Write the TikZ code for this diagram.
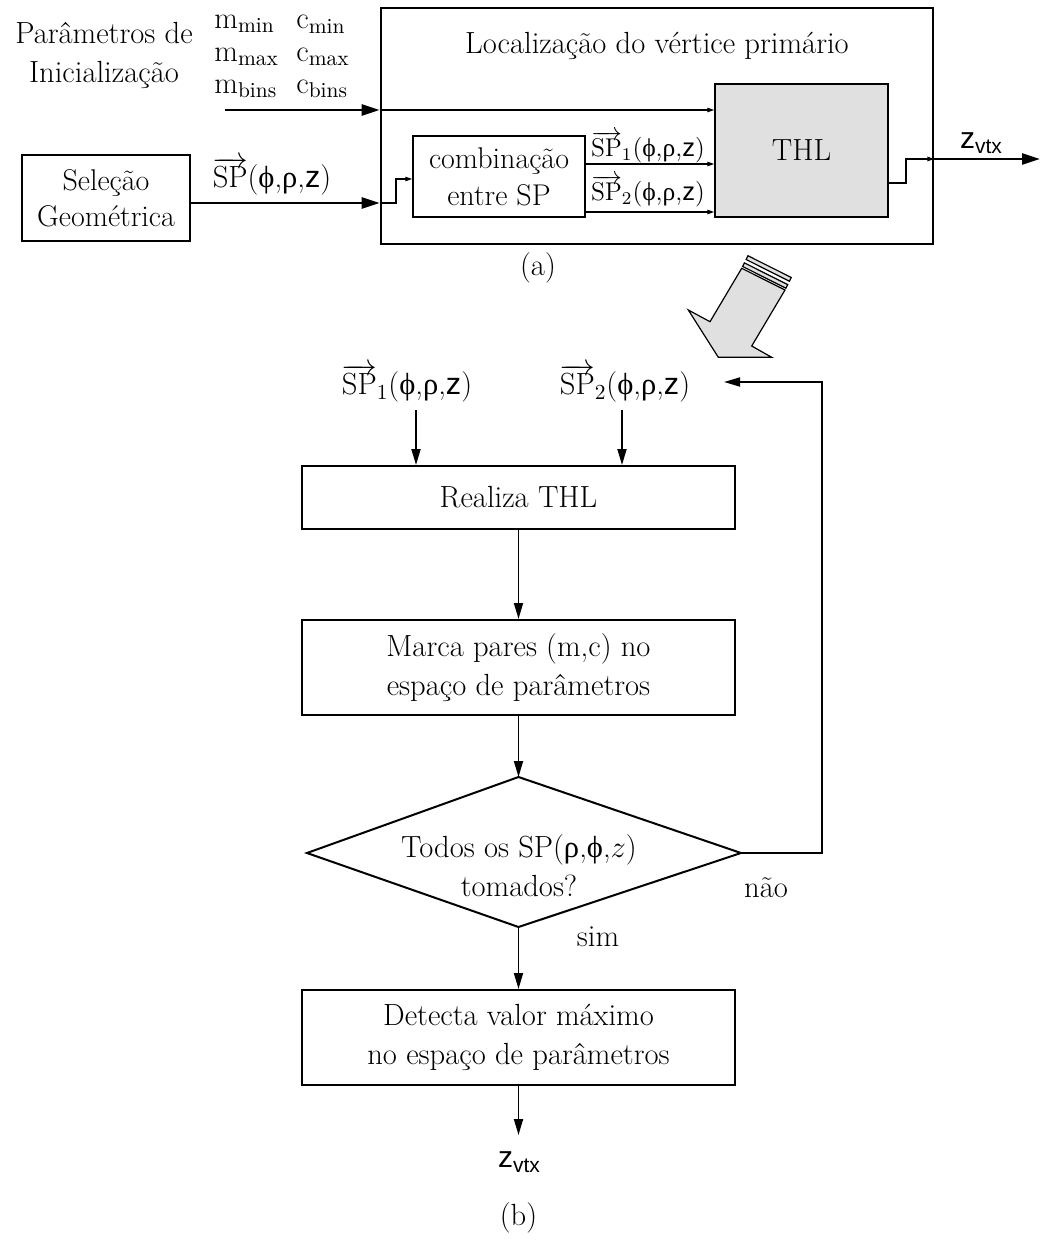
\RequirePackage{fix-cm}
\documentclass[tikz,border=0pt]{standalone}
\usepackage{fontspec}
\newfontfamily\hv{Liberation Sans}
\newfontfamily\gr{Liberation Serif}
\usetikzlibrary{arrows.meta}
\newcommand{\spargs}{({\gr ϕ},{\gr ρ},{\hv z})}
\newcommand{\spvec}[1]{$\overrightarrow{\mathrm{SP}}_{#1}$\spargs}
\newcommand{\zvtx}{{\hv\fontsize{15}{15}\selectfont z\raisebox{-0.3ex}{\fontsize{10.5}{10}\selectfont vtx}}}
\begin{document}
\begin{tikzpicture}[x=0.5pt,y=-0.5pt,
  font=\fontsize{15.3}{19.5}\selectfont,
  bigbox/.style={draw, line width=1.4pt, inner sep=0pt, align=center},
  smallbox/.style={draw, line width=0.75pt, inner sep=0pt, align=center},
  fbox/.style={draw, line width=1pt, inner sep=0pt, align=center},
  lbl/.style={inner sep=0pt, align=center},
  sml/.style={inner sep=0pt, font=\fontsize{12.8}{16}\selectfont},
  bigarr/.style={line width=1.3pt, -{Triangle[length=9pt,width=5.5pt]}},
  smallarr/.style={line width=0.6pt, -{Triangle[length=3.5pt,width=2.2pt]}},
  flowarr/.style={line width=0.9pt, -{Triangle[length=8pt,width=4.5pt]}},
  grayfill/.style={fill=black!12}]
\useasboundingbox (0,0) rectangle (1040,1240);

% ---------- part (a) ----------
\node[lbl] (par) at (104,55) {Parâmetros de\\Inicialização};
\node[lbl, anchor=west] (mmin) at (214,24) {$\mathrm{m}_{\mathrm{min}}$};
\node[lbl, anchor=west] (mmax) at (214,57) {$\mathrm{m}_{\mathrm{max}}$};
\node[lbl, anchor=west] (mbins) at (214,89) {$\mathrm{m}_{\mathrm{bins}}$};
\node[lbl, anchor=west] (cmin) at (296,24) {$\mathrm{c}_{\mathrm{min}}$};
\node[lbl, anchor=west] (cmax) at (296,57) {$\mathrm{c}_{\mathrm{max}}$};
\node[lbl, anchor=west] (cbins) at (296,89) {$\mathrm{c}_{\mathrm{bins}}$};

\node[bigbox, minimum width=276pt, minimum height=118pt] (loc) at (657,126) {};
\node[lbl] (loctitle) at (657,46) {Localização do vértice primário};
\node[draw, line width=0.7pt, grayfill, inner sep=0pt, minimum width=86.5pt, minimum height=66.5pt] (thl) at (801.5,150.5) {THL};
\node[smallbox, minimum width=86pt, minimum height=40.5pt, font=\fontsize{15}{18.5}\selectfont] (comb) at (499,176.5) {combinação\\entre SP};
\node[bigbox, minimum width=84pt, minimum height=43pt, font=\fontsize{15}{18}\selectfont] (sel) at (106,198) {Seleção\\Geométrica};

% parameter input
\coordinate (pin) at (225,110);
\draw[bigarr] (pin) -- (loc.west |- pin);
\draw[smallarr] (loc.west |- pin) -- (thl.west |- pin);

% geometric input
\coordinate (gy) at (0,203);
\draw[bigarr] (sel.east |- gy) -- (loc.west |- gy);
\node[lbl] (splab) at (272,176) {$\overrightarrow{\mathrm{SP}}$\spargs};
\coordinate (gstep) at (396,179);
\draw[smallarr] (loc.west |- gy) -- (gstep |- gy) -- (gstep) -- (comb.west |- gstep);

% SP1, SP2 to THL
\coordinate (s1) at (0,164);
\coordinate (s2) at (0,212);
\draw[smallarr] (comb.east |- s1) -- (thl.west |- s1);
\draw[smallarr] (comb.east |- s2) -- (thl.west |- s2);
\node[sml] (sp1a) at (648,147) {\spvec{1}};
\node[sml] (sp2a) at (648,191) {\spvec{2}};

% THL output
\coordinate (tstep) at (906,159);
\coordinate (zout) at (1040,159);
\draw[smallarr] (thl.east |- 0,183) -- (tstep |- 0,183) -- (tstep) -- (loc.east |- tstep);
\draw[bigarr] (loc.east |- tstep) -- (zout);
\node[lbl] (zvtxa) at (981,143) {\zvtx};

\node[lbl] (capa) at (538,268) {(a)};

% big hollow arrow
\filldraw[grayfill, line width=0.6pt] (741.7,268.3) -- (710,321.7) -- (688.3,310) -- (718.3,357.3) -- (771.7,357.3) -- (751.7,346) -- (785,290) -- cycle;
\filldraw[grayfill, line width=0.6pt] (742.6,266.5) -- (785.9,288.2) -- (787.7,284.6) -- (744.4,262.9) -- cycle;
\filldraw[grayfill, line width=0.6pt] (746.1,259.5) -- (789.4,281.2) -- (791.3,277.5) -- (748,255.8) -- cycle;

% ---------- part (b) ----------
\node[lbl] (sp1b) at (407,383) {\spvec{1}};
\node[lbl] (sp2b) at (625,383) {\spvec{2}};

\node[fbox, minimum width=216.5pt, minimum height=31.5pt] (real) at (518.5,497.5) {Realiza THL};
\node[fbox, minimum width=216.5pt, minimum height=47.5pt] (marca) at (518.5,667.5) {Marca pares (m,c) no\\espaço de parâmetros};

\coordinate (dt) at (518.5,777);
\coordinate (dl) at (307,853);
\coordinate (dr) at (741,853);
\coordinate (db) at (518.5,927);
\draw[line width=1pt] (dt) -- (dr) -- (db) -- (dl) -- cycle;
\node[lbl] (dtext) at (519,866) {Todos os SP({\gr ρ},{\gr ϕ},$z$)\\tomados?};

\node[fbox, minimum width=216.5pt, minimum height=47.5pt] (det) at (518.5,1037.5) {Detecta valor máximo\\no espaço de parâmetros};

\coordinate (a1) at (416,410);
\coordinate (a2) at (622,410);
\draw[flowarr] (a1) -- (a1 |- real.north);
\draw[flowarr] (a2) -- (a2 |- real.north);
\draw[flowarr] (real.south) -- (marca.north);
\draw[flowarr] (marca.south) -- (dt);
\draw[flowarr] (db) -- (det.north);

\coordinate (fbc) at (822,853);
\coordinate (fbend) at (724,382);
\draw[flowarr] (dr) -- (fbc) -- (fbc |- fbend) -- (fbend);

\node[lbl] (nao) at (766,888) {não};
\node[lbl] (sim) at (598,937) {sim};

\coordinate (zend) at (518.5,1135);
\draw[flowarr] (det.south) -- (zend);
\node[lbl] (zvtxb) at (519,1162) {\zvtx};
\node[lbl] (capb) at (518.5,1218) {(b)};
\end{tikzpicture}
\end{document}
